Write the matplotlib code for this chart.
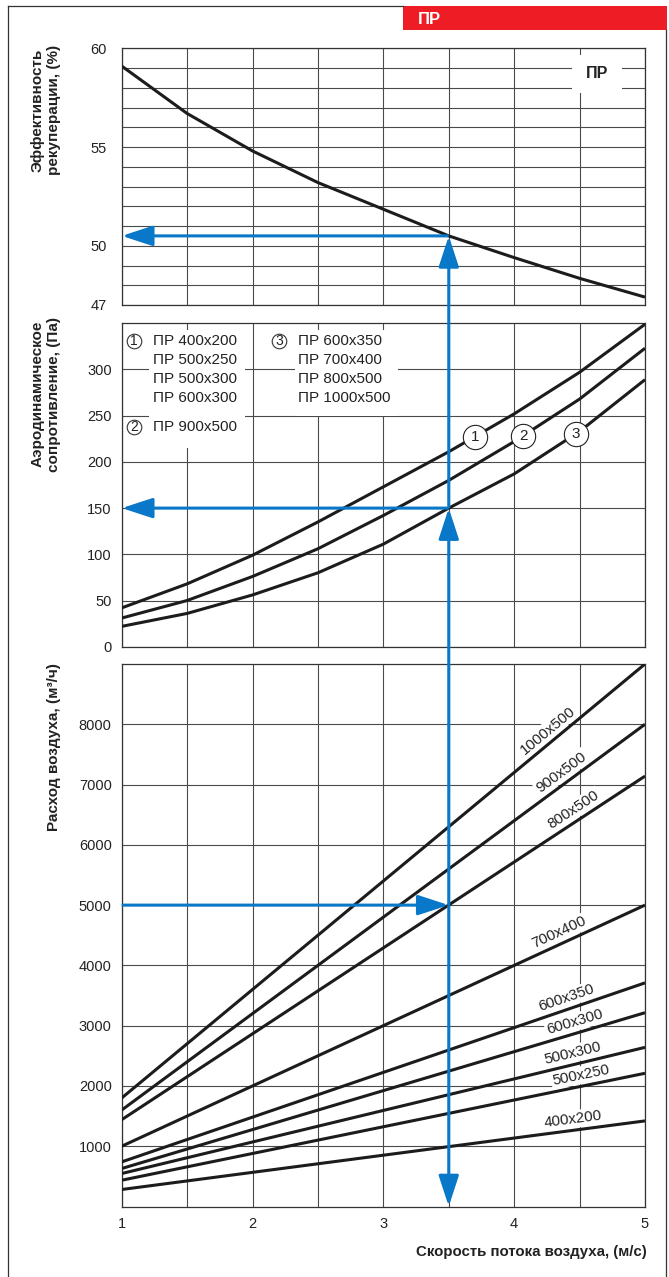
import numpy as np
import matplotlib
matplotlib.use("Agg")
import matplotlib.pyplot as plt
from matplotlib.patches import Rectangle, ConnectionPatch, FancyArrowPatch
from matplotlib.lines import Line2D
import matplotlib.transforms as mtransforms

plt.rcParams['font.family'] = ['Liberation Sans', 'DejaVu Sans']

# Air velocity through the unit, m/s
velocity = [1.0, 1.5, 2.0, 2.5, 3.0, 3.5, 4.0, 4.5, 5.0]
# Heat recovery efficiency, %
efficiency = [59.1, 56.7, 54.8, 53.2, 51.85, 50.5, 49.4, 48.35, 47.4]
# Pressure drop, Pa, for the three size groups
pressure_1 = [42, 68, 99, 135, 173, 211, 252, 297, 349]
pressure_2 = [31, 50, 76, 106, 142, 180, 222, 268, 323]
pressure_3 = [22, 36, 56, 80, 111, 150, 187, 233, 289]

group_1 = ['ПР 400x200', 'ПР 500x250', 'ПР 500x300', 'ПР 600x300']
group_2 = ['ПР 900x500']
group_3 = ['ПР 600x350', 'ПР 700x400', 'ПР 800x500', 'ПР 1000x500']

# Air flow, m3/h, at the ends of the velocity range
flow_velocity = [1.0, 5.0]
flow_sizes = ['1000x500', '900x500', '800x500', '700x400', '600x350',
              '600x300', '500x300', '500x250', '400x200']
flow_at_1 = [1800, 1600, 1440, 1000, 740, 630, 547, 436, 282]
flow_at_5 = [9000, 8000, 7140, 5000, 3710, 3215, 2640, 2210, 1420]

# Worked example: 800x500 unit at 5000 m3/h
sel_velocity = 3.5
sel_flow = 5000
sel_pressure = 150
sel_efficiency = 50.5

W, H = 669, 1277
BLUE = '#0a78c8'
INK = '#1c1c1c'
GRID = '#4a4a4a'
TXT = '#222222'

fig = plt.figure(figsize=(W / 100, H / 100), dpi=100)
fig.patch.set_facecolor('white')


def fx(px):
    return px / W


def fy(py):
    return 1 - py / H


def axes_box(top, bottom, left=121.7, right=645.0):
    return [fx(left), fy(bottom), fx(right) - fx(left), (bottom - top) / H]


ax_top = fig.add_axes(axes_box(48.3, 305.0))
ax_mid = fig.add_axes(axes_box(323.3, 646.7))
ax_bot = fig.add_axes(axes_box(664.0, 1206.5))


def style(ax, ylim, major, minor=None, ypad=7.2, show_x=False):
    ax.set_xlim(1, 5)
    ax.set_ylim(*ylim)
    ax.set_xticks([1, 2, 3, 4, 5])
    ax.set_xticks([1.5, 2.5, 3.5, 4.5], minor=True)
    ax.set_yticks(major)
    if minor is not None:
        ax.set_yticks(minor, minor=True)
    ax.tick_params(which='both', length=0, labelsize=10.5, colors=TXT)
    ax.tick_params(axis='y', pad=ypad)
    ax.tick_params(axis='x', pad=7.2, labelbottom=show_x)
    ax.grid(which='both', color=GRID, lw=0.8)
    ax.set_axisbelow(True)
    for s in ax.spines.values():
        s.set_color('#333333')
        s.set_linewidth(0.9)


style(ax_top, (47, 60), [47, 50, 55, 60], list(range(47, 61)), ypad=10.8)
style(ax_mid, (0, 350), list(range(0, 301, 50)))
style(ax_bot, (0, 9000), list(range(1000, 8001, 1000)), show_x=True)

curve_kw = dict(color=INK, lw=2.2, solid_capstyle='butt', solid_joinstyle='round',
                zorder=3)

# Efficiency curve
ax_top.plot(velocity, efficiency, **curve_kw)
ax_top.add_patch(Rectangle((0.860, 0.825), 0.0955, 0.149, transform=ax_top.transAxes,
                           fc='white', ec='none', zorder=1.5))
ax_top.text(0.9077, 0.9026, 'ПР', transform=ax_top.transAxes, ha='center', va='center',
            fontsize=11.5, fontweight='bold', color=TXT, zorder=4)

# Pressure drop curves
pressures = [pressure_1, pressure_2, pressure_3]
for p in pressures:
    ax_mid.plot(velocity, p, **curve_kw)

for num, (p, xl) in enumerate(zip(pressures, [3.70, 4.07, 4.47]), start=1):
    yl = np.interp(xl, velocity, p)
    ax_mid.plot([xl], [yl], 'o', ms=17.5, mfc='white', mec='#222222', mew=0.8,
                zorder=6, clip_on=False)
    ax_mid.text(xl, yl, str(num), ha='center', va='center', fontsize=11,
                color=TXT, zorder=7)

# Legend blocks of the pressure chart
for (x0, y0, w, h) in [(0.0521, 0.6144, 0.1830, 0.3649), (0.3312, 0.7134, 0.1968, 0.2659)]:
    ax_mid.add_patch(Rectangle((x0, y0), w, h, transform=ax_mid.transAxes,
                               fc='white', ec='none', zorder=1.5))

row_y = [0.9443, 0.8856, 0.8268, 0.7681]
legend_kw = dict(transform=ax_mid.transAxes, fontsize=11, color=TXT, va='center',
                 ha='left', zorder=4)


def legend_mark(x, y, num):
    ax_mid.plot([x], [y], 'o', transform=ax_mid.transAxes, ms=10.5, mfc='white',
                mec='#333333', mew=0.8, zorder=4, clip_on=False)
    ax_mid.text(x, y, str(num), transform=ax_mid.transAxes, fontsize=10, color=TXT,
                ha='center', va='center', zorder=5)


legend_mark(0.0233, row_y[0], 1)
for y, name in zip(row_y, group_1):
    ax_mid.text(0.0592, y, name, **legend_kw)
legend_mark(0.0233, 0.6793, 2)
ax_mid.text(0.0592, 0.6793, group_2[0], **legend_kw)
legend_mark(0.3012, row_y[0], 3)
for y, name in zip(row_y, group_3):
    ax_mid.text(0.3375, y, name, **legend_kw)

# Air flow lines with their size labels
label_x = [4.31, 4.41, 4.50, 4.38, 4.43, 4.49, 4.47, 4.53, 4.46]
for name, q1, q5, xl in zip(flow_sizes, flow_at_1, flow_at_5, label_x):
    ax_bot.plot(flow_velocity, [q1, q5], **curve_kw)
    p1 = ax_bot.transData.transform((flow_velocity[0], q1))
    p2 = ax_bot.transData.transform((flow_velocity[1], q5))
    ang = np.arctan2(p2[1] - p1[1], p2[0] - p1[0])
    d = 11.0
    tr = mtransforms.offset_copy(ax_bot.transData, fig=fig, x=-np.sin(ang) * d,
                                 y=np.cos(ang) * d, units='dots')
    yl = np.interp(xl, flow_velocity, [q1, q5])
    ax_bot.text(xl, yl, name, transform=tr, rotation=np.degrees(ang),
                rotation_mode='anchor', ha='center', va='center', fontsize=10.8,
                color=TXT, zorder=4,
                bbox=dict(boxstyle='square,pad=0.12', fc='white', ec='none'))

# Selection path in blue
arrow_style = '-|>,head_length=19,head_width=6.2'
arrow_kw = dict(arrowstyle=arrow_style, mutation_scale=1, lw=2.2, color=BLUE,
                shrinkA=0, shrinkB=0, joinstyle='round', capstyle='butt', zorder=8)


def arrow(ax, start, end):
    ax.add_patch(FancyArrowPatch(start, end, transform=ax.transData, clip_on=False,
                                 **arrow_kw))


arrow(ax_bot, (1.0, sel_flow), (sel_velocity, sel_flow))
arrow(ax_bot, (sel_velocity, sel_flow), (sel_velocity, 0))
arrow(ax_mid, (sel_velocity, sel_pressure), (1.0, sel_pressure))
arrow(ax_top, (sel_velocity, sel_efficiency), (1.0, sel_efficiency))

for (axA, ya), (axB, yb) in [((ax_bot, sel_flow), (ax_mid, sel_pressure)),
                             ((ax_mid, sel_pressure), (ax_top, sel_efficiency))]:
    con = ConnectionPatch(xyA=(sel_velocity, ya), coordsA=axA.transData,
                          xyB=(sel_velocity, yb), coordsB=axB.transData, **arrow_kw)
    fig.add_artist(con)

# Axis titles
fig.text(fx(45.5), fy(110), 'Эффективность\nрекуперации, (%)', rotation=90,
         ha='center', va='center', fontsize=11, fontweight='bold', color=TXT,
         multialignment='center', linespacing=1.2)
fig.text(fx(45.5), fy(394), 'Аэродинамическое\nсопротивление, (Па)', rotation=90,
         ha='center', va='center', fontsize=11, fontweight='bold', color=TXT,
         multialignment='center', linespacing=1.2)
fig.text(fx(54), fy(747), 'Расход воздуха, (м³/ч)', rotation=90,
         ha='center', va='center', fontsize=11, fontweight='bold', color=TXT)
fig.text(fx(646.7), fy(1251.7), 'Скорость потока воздуха, (м/с)', ha='right',
         va='center', fontsize=10.8, fontweight='bold', color=TXT)

# Page frame and header tab
frame_kw = dict(color='#333333', lw=0.9, transform=fig.transFigure)
fig.add_artist(Line2D([fx(8), fx(8)], [fy(6), 0], **frame_kw))
fig.add_artist(Line2D([fx(8), fx(403)], [fy(6), fy(6)], **frame_kw))
fig.add_artist(Line2D([fx(665.5), fx(665.5)], [fy(30), 0], **frame_kw))
fig.add_artist(Rectangle((fx(403), fy(30)), fx(667) - fx(403), (30 - 6) / H,
                         transform=fig.transFigure, fc='#ee1c25', ec='none'))
fig.text(fx(418), fy(19), 'ПР', ha='left', va='center', fontsize=12,
         fontweight='bold', color='white')

fig.savefig('out.png', dpi=100)
